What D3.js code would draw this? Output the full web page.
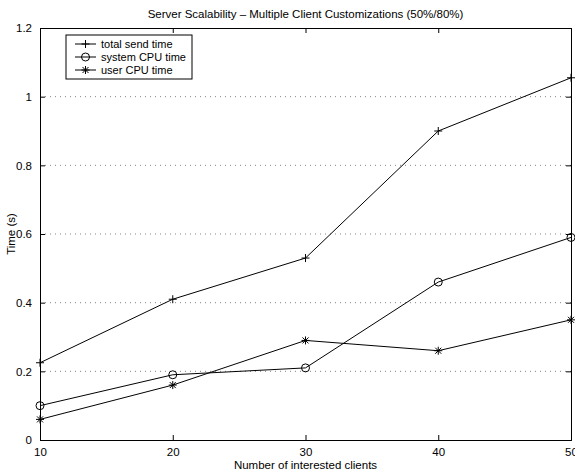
<!DOCTYPE html>
<html>
<head>
<meta charset="utf-8">
<script src="https://cdn.jsdelivr.net/npm/d3@7"></script>
<style>
  body { margin: 0; background: #fff; }
  text { font-family: "Liberation Sans", Arial, sans-serif; fill: #000; }
</style>
</head>
<body>
<div id="chart"></div>
<script>
// data
var clients = [10, 20, 30, 40, 50];
var totalSend = [0.225, 0.41, 0.53, 0.90, 1.055];
var systemCpu = [0.10, 0.19, 0.21, 0.46, 0.59];
var userCpu = [0.06, 0.16, 0.29, 0.26, 0.35];
var seriesNames = ["total send time", "system CPU time", "user CPU time"];
var xTicks = [10, 20, 30, 40, 50];
var yTicks = [0, 0.2, 0.4, 0.6, 0.8, 1, 1.2];

var margin = { top: 28, right: 4, bottom: 32, left: 40 },
    width = 575 - margin.left - margin.right,
    height = 472 - margin.top - margin.bottom;

var svg = d3.select("#chart").append("svg")
    .attr("width", 575)
    .attr("height", 472)
    .append("g")
    .attr("transform", "translate(" + margin.left + "," + margin.top + ")");

var x = d3.scaleLinear().domain([10, 50]).range([0, width]);
var y = d3.scaleLinear().domain([0, 1.2]).range([height, 0]);

// dotted horizontal grid
svg.selectAll(".grid")
    .data(yTicks.slice(1, -1))
    .enter().append("line")
    .attr("x1", 0).attr("x2", width)
    .attr("y1", d => y(d)).attr("y2", d => y(d))
    .style("stroke", "#333")
    .style("stroke-width", 0.6)
    .style("stroke-dasharray", "1,4");

// axes with inward ticks
svg.append("g")
    .attr("transform", "translate(0," + height + ")")
    .call(d3.axisBottom(x).tickValues(xTicks).tickSize(-5).tickPadding(8).tickFormat(d3.format("d")));
svg.append("g")
    .call(d3.axisTop(x).tickValues(xTicks).tickSize(-5).tickFormat(""));
svg.append("g")
    .call(d3.axisLeft(y).tickValues(yTicks).tickSize(-5).tickPadding(8).tickFormat(d => d));
svg.append("g")
    .attr("transform", "translate(" + width + ",0)")
    .call(d3.axisRight(y).tickValues(yTicks).tickSize(-5).tickFormat(""));

svg.selectAll(".domain").style("stroke", "#000").style("stroke-width", 1);
svg.selectAll(".tick line").style("stroke", "#000");
svg.selectAll(".tick text").style("font-size", "11.5px").style("font-family", "Liberation Sans, Arial, sans-serif");

// series
var series = [
    { name: seriesNames[0], values: totalSend, mark: "plus" },
    { name: seriesNames[1], values: systemCpu, mark: "circle" },
    { name: seriesNames[2], values: userCpu, mark: "star" }
];

var line = d3.line()
    .x((d, i) => x(clients[i]))
    .y(d => y(d));

function drawMark(g, type) {
    if (type === "plus") {
        g.append("path").attr("d", "M-4,0H4M0,-4V4");
    } else if (type === "circle") {
        g.append("circle").attr("r", 4).style("fill", "none");
    } else {
        g.append("path").attr("d", "M-4,0H4M0,-4V4M-3,-3L3,3M-3,3L3,-3");
    }
    g.selectAll("path, circle").style("stroke", "#000").style("stroke-width", 1).style("fill", "none");
}

series.forEach(function (s) {
    svg.append("path")
        .datum(s.values)
        .attr("d", line)
        .style("fill", "none")
        .style("stroke", "#000")
        .style("stroke-width", 1);
    s.values.forEach(function (v, i) {
        var g = svg.append("g")
            .attr("transform", "translate(" + x(clients[i]) + "," + y(v) + ")");
        drawMark(g, s.mark);
    });
});

// legend
var legend = svg.append("g").attr("transform", "translate(26,7)");
legend.append("rect")
    .attr("width", 126).attr("height", 44)
    .style("fill", "#fff").style("stroke", "#000").style("stroke-width", 1);
series.forEach(function (s, i) {
    var row = legend.append("g").attr("transform", "translate(0," + (9 + i * 13) + ")");
    row.append("line").attr("x1", 9).attr("x2", 30)
        .style("stroke", "#000").style("stroke-width", 1);
    drawMark(row.append("g").attr("transform", "translate(19.5,0)"), s.mark);
    row.append("text").attr("x", 35).attr("dy", "0.35em")
        .style("font-size", "11px").text(s.name);
});

// labels
svg.append("text")
    .attr("x", width / 2).attr("y", -10)
    .attr("text-anchor", "middle")
    .style("font-size", "11.5px")
    .text("Server Scalability \u2013 Multiple Client Customizations (50%/80%)");

svg.append("text")
    .attr("x", width / 2).attr("y", height + 29)
    .attr("text-anchor", "middle")
    .style("font-size", "11.5px")
    .text("Number of interested clients");

svg.append("text")
    .attr("transform", "rotate(-90)")
    .attr("x", -height / 2).attr("y", -25)
    .attr("text-anchor", "middle")
    .style("font-size", "11.5px")
    .text("Time (s)");
</script>
</body>
</html>
